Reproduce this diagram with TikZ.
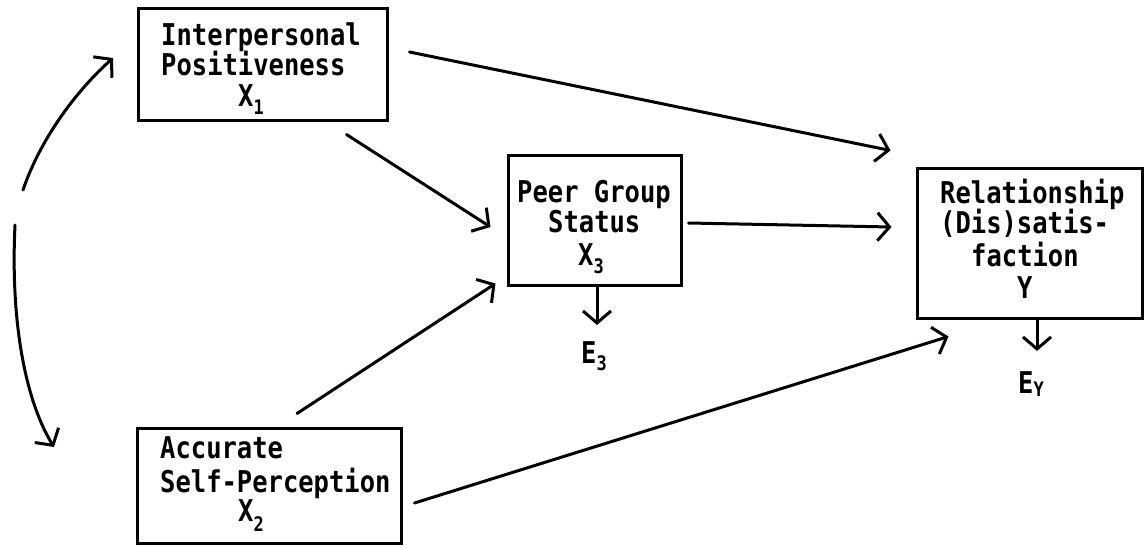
\documentclass[tikz,border=0pt]{standalone}
\usepackage{fontspec}
\usepackage{graphicx}
\usetikzlibrary{arrows.meta}
\newfontfamily\diagfont{DejaVu Sans Mono}
\newcommand\sq[1]{\scalebox{0.85}[1]{#1}}
\newcommand\subs[2][-8pt]{\raisebox{#1}{\fontsize{20}{20}\selectfont #2}}
\begin{document}
\begin{tikzpicture}[x=1pt,y=-1pt,
  box/.style={draw, line width=3pt, inner sep=0pt},
  conn/.style={line width=3pt, line cap=round, -{Straight Barb[length=12pt,width=28pt]}},
  txt/.style={anchor=base west, inner sep=0pt, font=\diagfont\bfseries\fontsize{30}{30}\selectfont}]
\useasboundingbox (0,0) rectangle (1147,547);
% boxes
\node[box, minimum width=249pt, minimum height=112pt] (x1) at (262.5,64) {};
\node[box, minimum width=264pt, minimum height=115pt] (x2) at (269,485.5) {};
\node[box, minimum width=173pt, minimum height=130pt] (x3) at (594.5,220) {};
\node[box, minimum width=225pt, minimum height=150pt] (y) at (1029.5,243) {};
% texts
\node[txt] (t1a) at (161,45) {\sq{Interpersonal}};
\node[txt] (t1b) at (161,75) {\sq{Positiveness}};
\node[txt] (t1c) at (238,106) {\sq{X\subs[-8pt]{1}}};
\node[txt] (t2a) at (160,458) {\sq{Accurate}};
\node[txt] (t2b) at (160,492) {\sq{Self-Perception}};
\node[txt] (t2c) at (238,521) {\sq{X\subs[-10pt]{2}}};
\node[txt] (t3a) at (517,202) {\sq{Peer Group}};
\node[txt] (t3b) at (548,232) {\sq{Status}};
\node[txt] (t3c) at (578,265) {\sq{X\subs{3}}};
\node[txt] (tya) at (940,203) {\sq{Relationship}};
\node[txt] (tyb) at (940,233) {\sq{(Dis)satis-}};
\node[txt] (tyc) at (971,266) {\sq{faction}};
\node[txt] (tyd) at (1017,298) {\sq{Y}};
\node[txt] (e3) at (581,363) {\sq{E\subs[-7pt]{3}}};
\node[txt] (ey) at (1018,393) {\sq{E\subs[-3pt]{Y}}};
% connectors
\draw[conn] ([shift={(21,-12)}]x1.east) -- ([shift={(-25,-16)}]y.north west);
\draw[conn] ([shift={(-42,13)}]x1.south east) -- ([shift={(-16,7)}]x3.west);
\draw[conn] ([shift={(28,-13)}]x2.north) -- ([shift={(-11,-3)}]x3.south west);
\draw[conn] ([shift={(6,3)}]x3.east) -- ([shift={(-24,-16)}]y.west);
\draw[conn] ([shift={(12,17.5)}]x2.east) -- ([shift={(33,17)}]y.south west);
\draw[conn, shorten >=16pt] ([xshift=2.5pt]x3.south) -- ([xshift=2.5pt]x3.south |- e3.north);
\draw[conn, shorten >=20pt] ([xshift=7.5pt]y.south) -- ([xshift=7.5pt]y.south |- ey.north);
% correlation arc
\coordinate (c1s) at (23,190);
\coordinate (c1e) at (113,58);
\coordinate (c2s) at (15,225);
\coordinate (c2e) at (54,447);
\draw[conn] (c1s) .. controls (40,140) and (75,92) .. (c1e);
\draw[conn] (c2s) .. controls (10,330) and (28,405) .. (c2e);
\end{tikzpicture}
\end{document}
